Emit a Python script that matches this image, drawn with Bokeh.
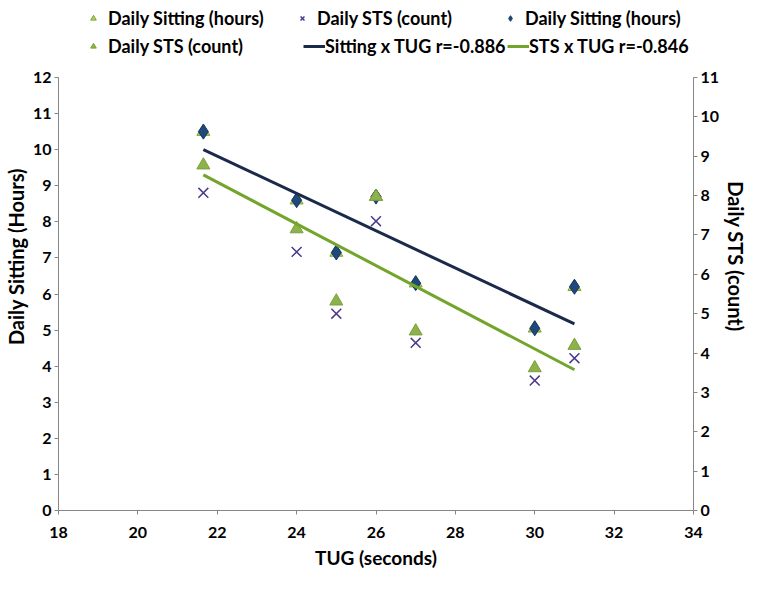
from bokeh.plotting import figure
from bokeh.models import Range1d, LinearAxis, Legend, LegendItem, FixedTicker
from bokeh.embed import file_html
from bokeh.resources import INLINE

# ---- data ----
tug = [21.65, 24, 25, 26, 27, 30, 31]
sitting_hours = [10.5, 8.6, 7.15, 8.7, 6.3, 5.05, 6.2]       # left axis
sts_triangle = [9.57, 7.8, 5.8, 8.7, 4.97, 3.95, 4.57]       # green triangles (left scale)
sts_count = [8.07, 6.57, 5.0, 7.35, 4.26, 3.3, 3.87]         # crosses (right axis)
trend_x = [21.65, 31]
trend_sitting = [10.0, 5.17]
trend_sts = [9.3, 3.9]
x_ticks = [18, 20, 22, 24, 26, 28, 30, 32, 34]
left_ticks = list(range(0, 13))
right_ticks = list(range(0, 12))
LEFT_MAX, RIGHT_MAX = 12, 11

FONT = "Lato"
AXIS_GREY = "#868686"

W, H = 751, 574
BL, BR, BT, BB = 50, 54, 2, 64
frame_h = H - BT - BB
top_px = 75                     # space in the frame above the "12" tick (legend area)
unit_px = (frame_h - top_px) / LEFT_MAX
y_top = LEFT_MAX + top_px / unit_px

p = figure(width=W, height=H, output_backend="svg", toolbar_location=None,
           x_range=Range1d(18, 34), y_range=Range1d(0, y_top),
           min_border_left=BL, min_border_right=BR, min_border_top=BT, min_border_bottom=BB)
p.extra_y_ranges = {"right": Range1d(0, y_top * RIGHT_MAX / LEFT_MAX)}
p.xgrid.visible = False
p.ygrid.visible = False
p.outline_line_color = None
p.background_fill_color = "white"

def style_axis(ax, label, title_size):
    ax.axis_label = label
    ax.axis_label_text_font = FONT
    ax.axis_label_text_font_style = "bold"
    ax.axis_label_text_font_size = title_size
    ax.axis_label_text_color = "black"
    ax.major_label_text_font = FONT
    ax.major_label_text_font_style = "bold"
    ax.major_label_text_font_size = "16px"
    ax.major_label_text_color = "black"
    ax.axis_line_color = AXIS_GREY
    ax.major_tick_line_color = AXIS_GREY
    ax.major_tick_out = 4
    ax.major_tick_in = 0
    ax.minor_tick_line_color = None

p.xaxis.ticker = FixedTicker(ticks=x_ticks)
p.yaxis.ticker = FixedTicker(ticks=left_ticks)
style_axis(p.xaxis[0], "TUG (seconds)", "19px")
style_axis(p.yaxis[0], "Daily Sitting (Hours)", "20px")
p.xaxis[0].major_label_standoff = 12
p.xaxis[0].axis_label_standoff = 5
p.yaxis[0].major_label_standoff = 3
p.yaxis[0].axis_label_standoff = 2
p.yaxis[0].bounds = (0, LEFT_MAX)

ry = LinearAxis(y_range_name="right", ticker=FixedTicker(ticks=right_ticks))
style_axis(ry, "Daily STS (count)", "20px")
ry.major_label_standoff = 3
ry.axis_label_standoff = 2
ry.bounds = (0, RIGHT_MAX)
p.add_layout(ry, "right")

# ---- markers ----
r_sit_tri = p.scatter(tug, sitting_hours, marker="triangle", size=13,
                      fill_color="#B3D14C", line_color="#7FA33A", line_width=1)
r_x = p.scatter(tug, sts_count, marker="x", size=14, y_range_name="right",
                line_color="#4B3A8C", line_width=1.5)
r_dia = p.scatter(tug, sitting_hours, marker="diamond", size=15,
                  fill_color="#1F497D", line_color="#17375E", line_width=1)
r_sts_tri = p.scatter(tug, sts_triangle, marker="triangle", size=13,
                      fill_color="#8DB24B", line_color="#7AA03A", line_width=1)

# ---- trend lines ----
r_l1 = p.line(trend_x, trend_sitting, line_color="#1B2A4A", line_width=3)
r_l2 = p.line(trend_x, trend_sts, line_color="#72A52A", line_width=3)

# ---- legend (individual items placed like the reference) ----
def add_legend(label, renderer, glyph_left_page, center_y_page, glyph_width, standoff):
    h = 22
    x = glyph_left_page - 8 - BL
    bottom_fig = center_y_page - 8 + h / 2
    y = (H - BB) - bottom_fig
    lg = Legend(items=[LegendItem(label=label, renderers=[renderer])],
                location=(x, y), orientation="horizontal",
                glyph_width=glyph_width, glyph_height=h, label_height=h,
                label_standoff=standoff, padding=0, margin=0, spacing=0,
                border_line_color=None, background_fill_alpha=0,
                label_text_font=FONT, label_text_font_style="bold",
                label_text_font_size="18px", label_text_color="black")
    p.add_layout(lg, "center")

add_legend("Daily Sitting (hours)", r_sit_tri, 86, 26, 14, 8)
add_legend("Daily STS (count)", r_x, 295, 26, 14, 8)
add_legend("Daily Sitting (hours)", r_dia, 503, 26, 14, 8)
add_legend("Daily STS (count)", r_sts_tri, 86, 54, 14, 8)
add_legend("Sitting x TUG r=-0.886", r_l1, 303, 54, 22, 0)
add_legend("STS x TUG r=-0.846", r_l2, 507, 54, 22, 0)

open("out.html", "w").write(file_html(p, INLINE))
